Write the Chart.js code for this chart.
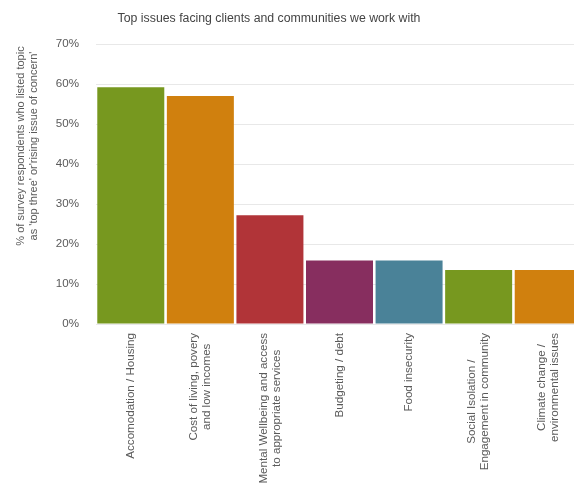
<!DOCTYPE html>
<html>
<head>
<meta charset="utf-8">
<title>Top issues</title>
<script src="https://cdn.jsdelivr.net/npm/chart.js@4/dist/chart.umd.min.js"></script>
<style>
    html, body { margin: 0; padding: 0; background: #fff; overflow: hidden; }
    #issues { display: block; }
</style>
</head>
<body>
<canvas id="issues" width="583" height="490"></canvas>
<script>
var chartTitle = "Top issues facing clients and communities we work with";
var axisTitle = ["% of survey respondents who listed topic", "as 'top three' or'rising issue of concern'"];

var topics = [
    ["Accomodation / Housing"],
    ["Cost of living, povery", "and low incomes"],
    ["Mental Wellbeing and access", "to appropriate services"],
    ["Budgeting / debt"],
    ["Food insecurity"],
    ["Social Isolation /", "Engagement in community"],
    ["Climate change /", "environmental issues"]
];
var percentages = [59.2, 57.0, 27.2, 15.9, 15.9, 13.5, 13.5];
var barColors = ["#77981f", "#d0800e", "#b13438", "#872e5f", "#4a8298", "#77981f", "#d0800e"];
var yTicks = [0, 10, 20, 30, 40, 50, 60, 70];

var fontFamily = "'Liberation Sans', Arial, sans-serif";

// title, rotated y title and centred multi-line category labels
var textPlugin = {
    id: 'textPlugin',
    afterDraw: function (chart) {
        var ctx = chart.ctx;
        var xScale = chart.scales.x;
        ctx.save();

        ctx.fillStyle = "#444";
        ctx.font = "12.3px " + fontFamily;
        ctx.textAlign = "center";
        ctx.textBaseline = "middle";
        ctx.fillText(chartTitle, 269, 19);

        ctx.fillStyle = "#5a5a5a";
        ctx.font = "11px " + fontFamily;
        ctx.save();
        ctx.translate(27, 146);
        ctx.rotate(-Math.PI / 2);
        axisTitle.forEach(function (line, i) {
            ctx.fillText(line, 0, (i - (axisTitle.length - 1) / 2) * 13);
        });
        ctx.restore();

        ctx.font = "11.6px " + fontFamily;
        topics.forEach(function (lines, idx) {
            var x = xScale.getPixelForValue(idx);
            var maxW = 0;
            lines.forEach(function (l) {
                maxW = Math.max(maxW, ctx.measureText(l).width);
            });
            ctx.save();
            ctx.translate(x, 333 + maxW / 2);
            ctx.rotate(-Math.PI / 2);
            lines.forEach(function (l, i) {
                ctx.fillText(l, 0, (i - (lines.length - 1) / 2) * 13);
            });
            ctx.restore();
        });
        ctx.restore();
    }
};

var ctx = document.getElementById("issues");
var chartInstance = new Chart(ctx, {
    type: 'bar',
    data: {
        labels: topics,
        datasets: [{
            data: percentages,
            backgroundColor: barColors,
            borderWidth: 0,
            barPercentage: 0.963,
            categoryPercentage: 1
        }]
    },
    options: {
        responsive: false,
        animation: false,
        layout: { padding: { top: 44, left: 0, right: 0, bottom: 0 } },
        plugins: {
            legend: { display: false },
            title: { display: false },
            tooltip: { enabled: false }
        },
        scales: {
            x: {
                grid: { display: false },
                border: { display: false },
                ticks: { display: false },
                afterFit: function (scale) { scale.height = 166; }
            },
            y: {
                min: 0,
                max: 70,
                afterBuildTicks: function (scale) {
                    scale.ticks = yTicks.map(function (v) { return { value: v }; });
                },
                grid: { color: "#e8e8e8", drawTicks: false },
                border: { display: false },
                ticks: {
                    padding: 17,
                    color: "#5a5a5a",
                    font: { family: fontFamily, size: 11.6 },
                    callback: function (v) { return v + "%"; }
                },
                afterFit: function (scale) { scale.width = 96; }
            }
        }
    },
    plugins: [textPlugin]
});
</script>
</body>
</html>
